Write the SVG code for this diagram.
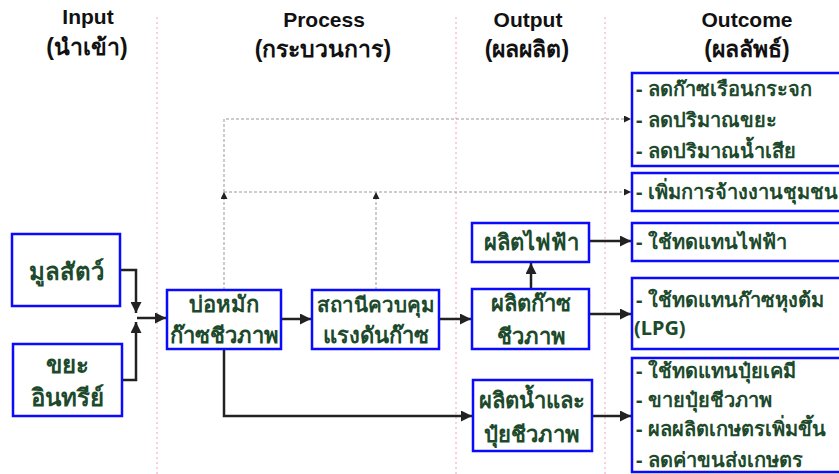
<svg xmlns="http://www.w3.org/2000/svg" width="839" height="474" viewBox="0 0 839 474">
<defs>
<style>
.hdr{font-family:"Liberation Sans","Noto Sans",sans-serif;font-weight:bold;font-size:21px;fill:#111;text-anchor:middle}
.hth{font-size:23px}
.box{fill:#fff;stroke:#0a0aff;stroke-width:2.5}
.t{font-family:"Noto Sans","DejaVu Sans",sans-serif;font-weight:bold;font-size:22px;fill:#1d4a2c;text-anchor:middle}
.big{font-size:24px}
.sm{font-size:20.5px}
.o{font-family:"Noto Sans","DejaVu Sans",sans-serif;font-weight:bold;font-size:20px;fill:#1d4a2c}
.sep{stroke:#f2a0bd;stroke-width:1;stroke-dasharray:2,3;fill:none}
.c{stroke:#222;stroke-width:2.5;fill:none}
.d{stroke:#999;stroke-width:1;stroke-dasharray:3,2;fill:none}
</style>
<marker id="ah" viewBox="0 0 10 10" refX="10" refY="5" markerWidth="5.2" markerHeight="4.4" markerUnits="strokeWidth" orient="auto"><path d="M0,0L10,5L0,10z" fill="#222"/></marker>
<marker id="ahs" viewBox="0 0 10 10" refX="10" refY="5" markerWidth="8" markerHeight="7" markerUnits="strokeWidth" orient="auto"><path d="M0,0L10,5L0,10z" fill="#222"/></marker>
</defs>
<rect width="839" height="474" fill="#fff"/>
<g id="separators">
<line class="sep" x1="157" y1="17" x2="157" y2="474"/>
<line class="sep" x1="456" y1="17" x2="456" y2="474"/>
<line class="sep" x1="605" y1="17" x2="605" y2="474"/>
</g>
<g id="headers">
<text class="hdr" x="88" y="24">Input</text>
<text class="hdr hth" x="87" y="55">(นำเข้า)</text>
<text class="hdr" x="324" y="27">Process</text>
<text class="hdr hth" x="323" y="57">(กระบวนการ)</text>
<text class="hdr" x="528" y="27">Output</text>
<text class="hdr hth" x="527" y="57">(ผลผลิต)</text>
<text class="hdr" x="747" y="27">Outcome</text>
<text class="hdr hth" x="747" y="57">(ผลลัพธ์)</text>
</g>
<g id="connectors">
<path class="c" d="M120,270H136V313" marker-end="url(#ah)"/>
<path class="c" d="M122,380H136V322" marker-end="url(#ah)"/>
<path class="c" d="M137,318H166" marker-end="url(#ah)"/>
<path class="c" d="M281,319H311" marker-end="url(#ah)"/>
<path class="c" d="M439,319H471" marker-end="url(#ah)"/>
<path class="c" d="M531,289V263" marker-end="url(#ah)"/>
<path class="c" d="M589,241H631" marker-end="url(#ah)"/>
<path class="c" d="M589,314H631" marker-end="url(#ah)"/>
<path class="c" d="M224,349V416H472" marker-end="url(#ah)"/>
<path class="c" d="M592,416H631" marker-end="url(#ah)"/>
<path class="d" d="M224,290V192" marker-end="url(#ahs)"/>
<path class="d" d="M376,290V192" marker-end="url(#ahs)"/>
<path class="d" d="M224,192H631" marker-end="url(#ahs)"/>
<path class="d" d="M224,192V119H631" marker-end="url(#ahs)"/>
</g>
<g id="n-manure"><rect class="box" x="12" y="234" width="108" height="72"/><text class="t big" x="66" y="280">มูลสัตว์</text></g>
<g id="n-waste"><rect class="box" x="13" y="344" width="109" height="72"/><text class="t big" x="67" y="373">ขยะ</text><text class="t big" x="67" y="406">อินทรีย์</text></g>
<g id="n-digester"><rect class="box" x="167" y="290" width="114" height="59"/><text class="t" x="224" y="312">บ่อหมัก</text><text class="t" x="224" y="343">ก๊าซชีวภาพ</text></g>
<g id="n-station"><rect class="box" x="312" y="290" width="127" height="59"/><text class="t sm" x="376" y="312">สถานีควบคุม</text><text class="t" x="376" y="343">แรงดันก๊าซ</text></g>
<g id="n-power"><rect class="box" x="472" y="223" width="117" height="39"/><text class="t" x="531" y="250">ผลิตไฟฟ้า</text></g>
<g id="n-biogas"><rect class="box" x="472" y="289" width="117" height="60"/><text class="t" x="531" y="311">ผลิตก๊าซ</text><text class="t" x="531" y="344">ชีวภาพ</text></g>
<g id="n-fert"><rect class="box" x="473" y="380" width="119" height="71"/><text class="t" x="532" y="408">ผลิตน้ำและ</text><text class="t" x="532" y="442">ปุ๋ยชีวภาพ</text></g>
<g id="o-env"><rect class="box" x="632" y="73" width="215" height="93"/>
<text class="o" x="636" y="96">- ลดก๊าซเรือนกระจก</text>
<text class="o" x="636" y="127">- ลดปริมาณขยะ</text>
<text class="o" x="636" y="158">- ลดปริมาณน้ำเสีย</text></g>
<g id="o-jobs"><rect class="box" x="632" y="173" width="215" height="38"/><text class="o" x="636" y="199">- เพิ่มการจ้างงานชุมชน</text></g>
<g id="o-power"><rect class="box" x="632" y="223" width="215" height="38"/><text class="o" x="636" y="249">- ใช้ทดแทนไฟฟ้า</text></g>
<g id="o-lpg"><rect class="box" x="632" y="278" width="215" height="71"/><text class="o" x="636" y="307">- ใช้ทดแทนก๊าซหุงต้ม</text><text class="o" x="634" y="335">(LPG)</text></g>
<g id="o-fert"><rect class="box" x="632" y="358" width="215" height="114"/>
<text class="o" x="636" y="378">- ใช้ทดแทนปุ๋ยเคมี</text>
<text class="o" x="636" y="407">- ขายปุ๋ยชีวภาพ</text>
<text class="o" x="636" y="436">- ผลผลิตเกษตรเพิ่มขึ้น</text>
<text class="o" x="636" y="467">- ลดค่าขนส่งเกษตร</text></g>
</svg>
